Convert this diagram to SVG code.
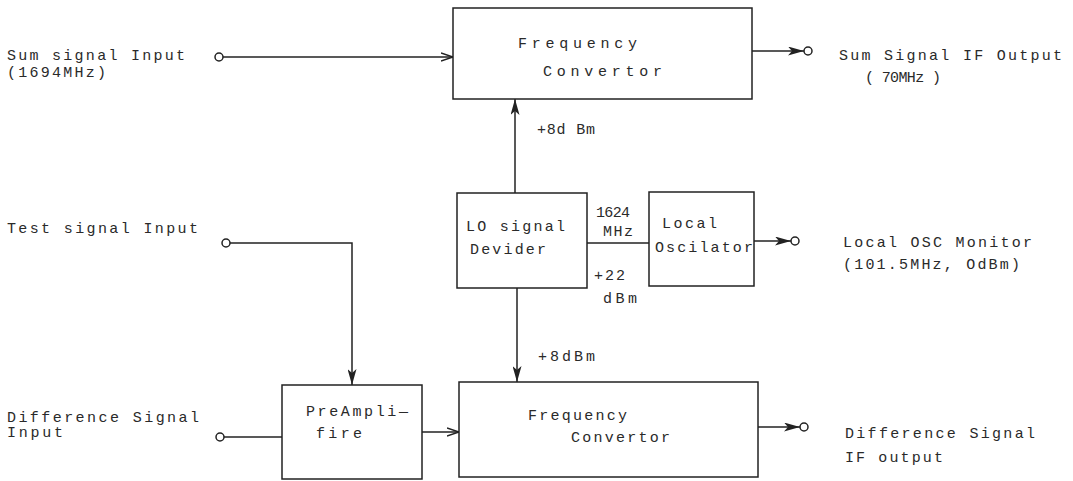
<svg xmlns="http://www.w3.org/2000/svg" width="1073" height="481" viewBox="0 0 1073 481">
<defs>
<style>
.box{fill:#fff;stroke:#222;stroke-width:1.5}
.ln{fill:none;stroke:#222;stroke-width:1.5}
.term{fill:#fff;stroke:#222;stroke-width:1.5}
text{font-family:"Liberation Mono","DejaVu Sans Mono",monospace;font-size:15px;fill:#2a2a2a}
</style>
<marker id="open" viewBox="0 0 12 10" refX="12" refY="5" markerWidth="12" markerHeight="10" markerUnits="userSpaceOnUse" orient="auto">
<path d="M0,1 L12,5 L0,9" fill="none" stroke="#222" stroke-width="1.4"/>
</marker>
<marker id="fill" viewBox="0 0 16 9" refX="16" refY="4.5" markerWidth="16" markerHeight="9" markerUnits="userSpaceOnUse" orient="auto">
<path d="M0,0 L16,4.5 L0,9 L4,4.5 Z" fill="#222"/>
</marker>
</defs>
<rect width="1073" height="481" fill="#fff"/>

<g id="connectors">
<path class="ln" d="M223,57 H453" marker-end="url(#open)"/>
<path class="ln" d="M752,51 H804" marker-end="url(#fill)"/>
<circle class="term" cx="219" cy="57" r="4"/>
<circle class="term" cx="808" cy="51" r="4"/>
<path class="ln" d="M515,193 V99" marker-end="url(#fill)"/>
<path class="ln" d="M587,243 H649"/>
<path class="ln" d="M754,241 H791" marker-end="url(#fill)"/>
<circle class="term" cx="795" cy="241" r="4"/>
<path class="ln" d="M517,288 V382" marker-end="url(#fill)"/>
<path class="ln" d="M230,243 H352 V385" marker-end="url(#fill)"/>
<circle class="term" cx="226" cy="243" r="4"/>
<path class="ln" d="M224,437 H282"/>
<circle class="term" cx="220" cy="437" r="4"/>
<path class="ln" d="M422,432 H459" marker-end="url(#open)"/>
<path class="ln" d="M758,427 H800" marker-end="url(#fill)"/>
<circle class="term" cx="804" cy="427" r="4"/>
</g>

<g id="freq-conv-top">
<rect class="box" x="453" y="8" width="299" height="91"/>
<text x="518" y="48" textLength="119" lengthAdjust="spacing">Frequency</text>
<text x="543" y="76" textLength="119" lengthAdjust="spacing">Convertor</text>
</g>

<g id="lo-divider">
<rect class="box" x="457" y="193" width="130" height="95"/>
<text x="466" y="231" textLength="99" lengthAdjust="spacing">LO signal</text>
<text x="470" y="254" textLength="76" lengthAdjust="spacing">Devider</text>
</g>

<g id="local-osc">
<rect class="box" x="649" y="192" width="105" height="94"/>
<text x="662" y="228" textLength="55" lengthAdjust="spacing">Local</text>
<text x="655" y="252" textLength="98" lengthAdjust="spacing">Oscilator</text>
</g>

<g id="preamp">
<rect class="box" x="282" y="385" width="140" height="94"/>
<text x="306" y="416" textLength="102" lengthAdjust="spacing">PreAmpli—</text>
<text x="316" y="438" textLength="46" lengthAdjust="spacing">fire</text>
</g>

<g id="freq-conv-bottom">
<rect class="box" x="459" y="382" width="299" height="95"/>
<text x="528" y="420" textLength="99" lengthAdjust="spacing">Frequency</text>
<text x="571" y="442" textLength="99" lengthAdjust="spacing">Convertor</text>
</g>

<g id="labels">
<text x="7" y="60" textLength="178" lengthAdjust="spacing">Sum signal Input</text>
<text x="7" y="77" textLength="99" lengthAdjust="spacing">(1694MHz)</text>
<text x="839" y="60" textLength="223" lengthAdjust="spacing">Sum Signal IF Output</text>
<text x="865" y="82" textLength="76" lengthAdjust="spacing">( 70MHz )</text>
<text x="537" y="134" textLength="58" lengthAdjust="spacing">+8d Bm</text>
<text x="7" y="233" textLength="191" lengthAdjust="spacing">Test signal Input</text>
<text x="596" y="217" textLength="34" lengthAdjust="spacing">1624</text>
<text x="603" y="236" textLength="30" lengthAdjust="spacing">MHz</text>
<text x="594" y="280" textLength="31" lengthAdjust="spacing">+22</text>
<text x="603" y="303" textLength="34" lengthAdjust="spacing">dBm</text>
<text x="843" y="247" textLength="189" lengthAdjust="spacing">Local OSC Monitor</text>
<text x="843" y="269" textLength="177" lengthAdjust="spacing">(101.5MHz, OdBm)</text>
<text x="538" y="361" textLength="57" lengthAdjust="spacing">+8dBm</text>
<text x="7" y="422" textLength="192" lengthAdjust="spacing">Difference Signal</text>
<text x="7" y="437" textLength="56" lengthAdjust="spacing">Input</text>
<text x="845" y="438" textLength="190" lengthAdjust="spacing">Difference Signal</text>
<text x="845" y="462" textLength="98" lengthAdjust="spacing">IF output</text>
</g>
</svg>
